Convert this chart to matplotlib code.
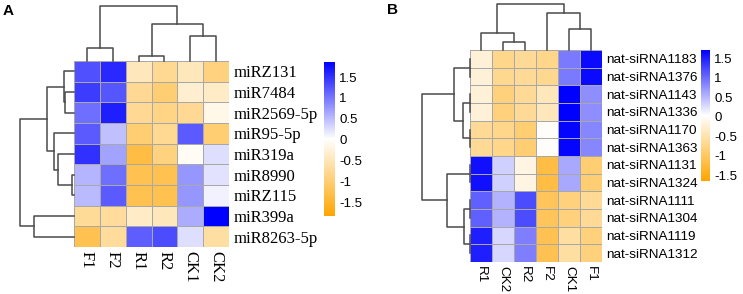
import numpy as np
import matplotlib
matplotlib.use("Agg")
import matplotlib.pyplot as plt
from matplotlib.colors import LinearSegmentedColormap

# ---- panel A data (row-scaled expression) ----
cols_a = ["F1", "F2", "R1", "R2", "CK1", "CK2"]
rows_a = ["miRZ131", "miR7484", "miR2569-5p", "miR95-5p", "miR319a",
          "miR8990", "miRZ115", "miR399a", "miR8263-5p"]
vals_a = [
    [1.28, 1.57, -0.47, -0.77, -0.47, -0.90],
    [1.42, 1.24, -0.75, -1.00, -0.33, -0.40],
    [1.06, 1.64, -0.75, -0.87, -0.75, -0.15],
    [1.20, 0.47, -1.00, -0.77, 1.20, -1.00],
    [1.50, 0.69, -1.33, -0.90, -0.05, 0.25],
    [0.55, 1.06, -1.25, -1.25, 0.77, 0.22],
    [0.51, 1.20, -1.25, -1.25, 0.77, 0.11],
    [-0.73, -0.70, -0.40, -0.47, 0.62, 1.86],
    [-1.25, -0.70, 1.17, 1.30, 0.25, -0.65],
]
range_a = (-1.83, 1.86)
# linkage: (left, right, relative height); ids >= n are earlier merges
col_link_a = [(0, 1, 0.24), (2, 3, 0.10), (4, 5, 0.46), (7, 8, 0.67), (6, 9, 1.0)]
row_link_a = [(1, 2, 0.16), (0, 9, 0.18), (5, 6, 0.04), (4, 11, 0.29),
              (3, 12, 0.37), (10, 13, 0.50), (7, 8, 0.75), (14, 15, 1.0)]

# ---- panel B data ----
cols_b = ["R1", "CK2", "R2", "F2", "CK1", "F1"]
rows_b = ["nat-siRNA1183", "nat-siRNA1376", "nat-siRNA1143", "nat-siRNA1336",
          "nat-siRNA1170", "nat-siRNA1363", "nat-siRNA1131", "nat-siRNA1324",
          "nat-siRNA1111", "nat-siRNA1304", "nat-siRNA1119", "nat-siRNA1312"]
vals_b = [
    [-0.23, -0.74, -0.66, -0.74, 0.90, 1.64],
    [-0.23, -0.70, -0.66, -0.70, 0.90, 1.64],
    [-0.23, -0.83, -0.66, -0.41, 1.71, 0.77],
    [-0.23, -0.83, -0.66, -0.41, 1.71, 0.77],
    [-0.66, -0.74, -0.90, 0.00, 1.68, 0.83],
    [-0.66, -0.74, -0.90, 0.00, 1.68, 0.83],
    [1.60, 0.34, -0.16, -1.20, 0.60, -0.90],
    [1.60, 0.34, -0.16, -1.20, 0.60, -0.90],
    [1.07, 0.54, 1.20, -1.05, -0.83, -0.66],
    [1.07, 0.54, 1.20, -1.05, -0.83, -0.66],
    [1.50, 0.30, 0.87, -1.10, -0.58, -0.83],
    [1.50, 0.30, 0.87, -1.10, -0.58, -0.83],
]
range_b = (-1.65, 1.71)
col_link_b = [(1, 2, 0.18), (0, 6, 0.38), (4, 5, 0.46), (3, 8, 0.80), (7, 9, 1.0)]
row_link_b = [(0, 1, 0), (2, 3, 0), (4, 5, 0), (6, 7, 0), (8, 9, 0), (10, 11, 0),
              (13, 14, 0.14), (12, 18, 0.33), (16, 17, 0.13), (15, 20, 0.47),
              (19, 21, 1.0)]

cbar_ticks = [1.5, 1, 0.5, 0, -0.5, -1, -1.5]

W, H = 743, 294
fig = plt.figure(figsize=(W / 100, H / 100), dpi=100)
cmap = LinearSegmentedColormap.from_list("ow", ["#FFA500", "#FFFFFF", "#0000FF"], N=256)


def box(x0, y0, x1, y1):
    # pixel box (top-left origin) -> figure axes
    return fig.add_axes([x0 / W, 1 - y1 / H, (x1 - x0) / W, (y1 - y0) / H])


def dendro(ax, links, n, vertical):
    pos = {i: i + 0.5 for i in range(n)}
    hgt = {i: 0.0 for i in range(n)}
    for k, (a, b, h) in enumerate(links):
        xs = [pos[a], pos[a], pos[b], pos[b]]
        ys = [hgt[a], h, h, hgt[b]]
        if vertical:
            ax.plot(xs, ys, color="#4a4a4a", lw=1.1, clip_on=False)
        else:
            ax.plot(ys, xs, color="#4a4a4a", lw=1.1, clip_on=False)
        pos[n + k] = (pos[a] + pos[b]) / 2
        hgt[n + k] = h
    ax.set_axis_off()


def panel(vals, rows, cols, rng, col_link, row_link, hm, cd_top, rd_left, cb,
          rfont, rsize, csize, letter, letter_xy):
    x0, y0, x1, y1 = hm
    data = np.array(vals)
    ax = box(x0, y0, x1, y1)
    mesh = ax.pcolormesh(data, cmap=cmap, vmin=rng[0], vmax=rng[1],
                         edgecolors="#a8a8a8", linewidth=0.7)
    ax.set_xlim(0, len(cols))
    ax.set_ylim(len(rows), 0)
    for s in ax.spines.values():
        s.set_visible(False)
    ax.set_xticks(np.arange(len(cols)) + 0.5)
    ax.set_xticklabels(cols, rotation=270, family=rfont, fontsize=csize)
    ax.set_yticks(np.arange(len(rows)) + 0.5)
    ax.set_yticklabels(rows, family=rfont, fontsize=rsize)
    ax.yaxis.tick_right()
    ax.tick_params(length=0, pad=3)

    cd = box(x0, cd_top, x1, y0)
    cd.set_xlim(0, len(cols))
    cd.set_ylim(0, 1)
    dendro(cd, col_link, len(cols), True)

    rd = box(rd_left, y0, x0, y1)
    rd.set_ylim(len(rows), 0)
    rd.set_xlim(1, 0)
    dendro(rd, row_link, len(rows), False)

    cax = box(*cb)
    c = fig.colorbar(mesh, cax=cax, ticks=cbar_ticks)
    c.outline.set_visible(False)
    c.ax.set_yticklabels([f"{t:g}" for t in cbar_ticks], family="Liberation Sans",
                         fontsize=9.5)
    c.ax.tick_params(length=0, pad=3)

    fig.text(letter_xy[0] / W, 1 - letter_xy[1] / H, letter, family="Liberation Sans",
             fontweight="bold", fontsize=11, va="top", ha="left")


panel(vals_a, rows_a, cols_a, range_a, col_link_a, row_link_a,
      (74, 61, 229, 247), 6, 20, (324, 62, 335, 216),
      "Liberation Serif", 12, 12, "A", (3, 4))
panel(vals_b, rows_b, cols_b, range_b, col_link_b, row_link_b,
      (470, 50, 602, 262), 4, 422, (701, 50, 710, 181),
      "Liberation Sans", 9.7, 9.7, "B", (387, 3))

fig.savefig("out.png", dpi=100)
